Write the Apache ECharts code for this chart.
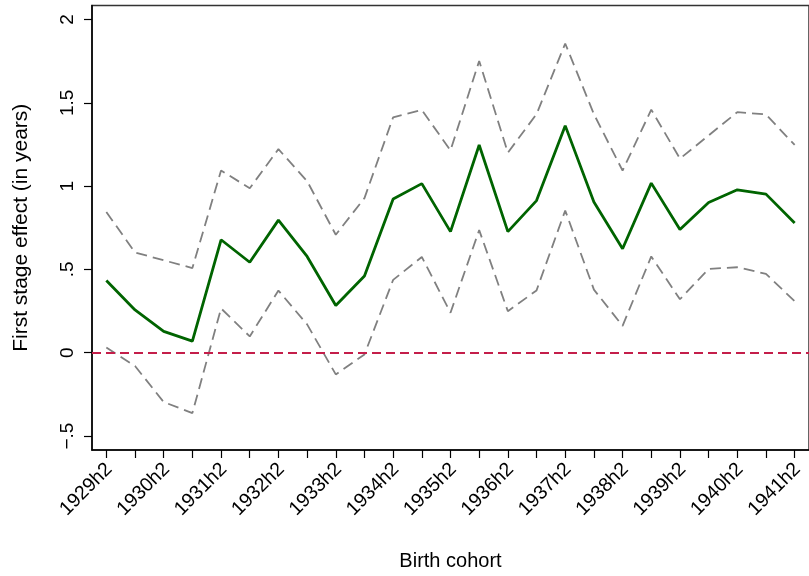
<!DOCTYPE html>
<html>
<head>
<meta charset="utf-8">
<script src="https://cdn.jsdelivr.net/npm/echarts@6/dist/echarts.min.js"></script>
<style>
html,body{margin:0;padding:0;background:#fff;}
#chart{width:809px;height:576px;}
</style>
</head>
<body>
<div id="chart"></div>
<script>
const cohorts = ['1929h2','1930h1','1930h2','1931h1','1931h2','1932h1','1932h2','1933h1','1933h2','1934h1','1934h2','1935h1','1935h2','1936h1','1936h2','1937h1','1937h2','1938h1','1938h2','1939h1','1939h2','1940h1','1940h2','1941h1','1941h2'];
const effect = [0.433,0.257,0.128,0.070,0.678,0.543,0.796,0.578,0.283,0.461,0.923,1.015,0.727,1.247,0.727,0.913,1.363,0.904,0.624,1.018,0.739,0.902,0.978,0.952,0.778];
const upperCI = [0.845,0.602,0.555,0.508,1.094,0.987,1.222,1.030,0.708,0.928,1.413,1.457,1.214,1.751,1.201,1.432,1.856,1.432,1.093,1.459,1.165,1.304,1.444,1.430,1.247];
const lowerCI = [0.032,-0.080,-0.296,-0.362,0.266,0.098,0.373,0.170,-0.130,-0.010,0.437,0.575,0.240,0.736,0.249,0.374,0.854,0.379,0.161,0.578,0.321,0.503,0.513,0.473,0.309];
const yTickValues = [-0.5, 0, 0.5, 1, 1.5, 2];
const yTickLabels = ['\u2212.5', '0', '.5', '1', '1.5', '2'];
const referenceLine = 0;

const chart = echarts.init(document.getElementById('chart'), null, {renderer: 'canvas'});
const font = "'Liberation Sans', Arial, Helvetica, sans-serif";
chart.setOption({
  animation: false,
  backgroundColor: '#fff',
  grid: {left: 92, top: 5.5, right: -2, bottom: 125, show: true, borderColor: '#333', borderWidth: 1.5, backgroundColor: 'transparent'},
  xAxis: {
    type: 'category',
    data: cohorts,
    boundaryGap: true,
    name: 'Birth cohort',
    nameLocation: 'middle',
    nameGap: 101,
    nameTextStyle: {fontFamily: font, fontSize: 20, color: '#000'},
    axisLine: {onZero: false, lineStyle: {color: '#000', width: 1.5}},
    axisTick: {show: true, alignWithLabel: true, interval: 0, length: 8, lineStyle: {color: '#000', width: 1.2}},
    axisLabel: {interval: 1, rotate: 45, margin: 5, padding: [0, 6, 0, 0], align: 'right', verticalAlign: 'top', fontFamily: font, fontSize: 19.5, color: '#000'},
    splitLine: {show: false}
  },
  yAxis: {
    type: 'value',
    min: -0.5838,
    max: 2.084,
    name: 'First stage effect (in years)',
    nameLocation: 'middle',
    nameGap: 60,
    nameTextStyle: {fontFamily: font, fontSize: 21, color: '#000'},
    axisLine: {show: true, lineStyle: {color: '#000', width: 1.5}},
    axisTick: {show: true, length: 8, customValues: yTickValues, lineStyle: {color: '#000', width: 1.2}},
    axisLabel: {rotate: 90, margin: 15, customValues: yTickValues, fontFamily: font, fontSize: 19, color: '#000',
      formatter: function (v) { const i = yTickValues.findIndex(t => Math.abs(t - v) < 1e-9); return i >= 0 ? yTickLabels[i] : ''; }},
    splitLine: {show: false}
  },
  series: [
    {name: 'Upper CI', type: 'line', data: upperCI, symbol: 'none', lineStyle: {color: '#808080', width: 1.8, type: [11, 6]}, z: 2},
    {name: 'Lower CI', type: 'line', data: lowerCI, symbol: 'none', lineStyle: {color: '#808080', width: 1.8, type: [11, 6]}, z: 2},
    {name: 'Zero', type: 'line', data: [], symbol: 'none',
      markLine: {silent: true, symbol: 'none', label: {show: false},
        lineStyle: {color: '#c41e4a', width: 1.8, type: [9, 5]},
        data: [{yAxis: referenceLine}]}, z: 3},
    {name: 'Effect', type: 'line', data: effect, symbol: 'none', lineStyle: {color: '#006400', width: 2.8}, z: 4}
  ]
});
</script>
</body>
</html>
